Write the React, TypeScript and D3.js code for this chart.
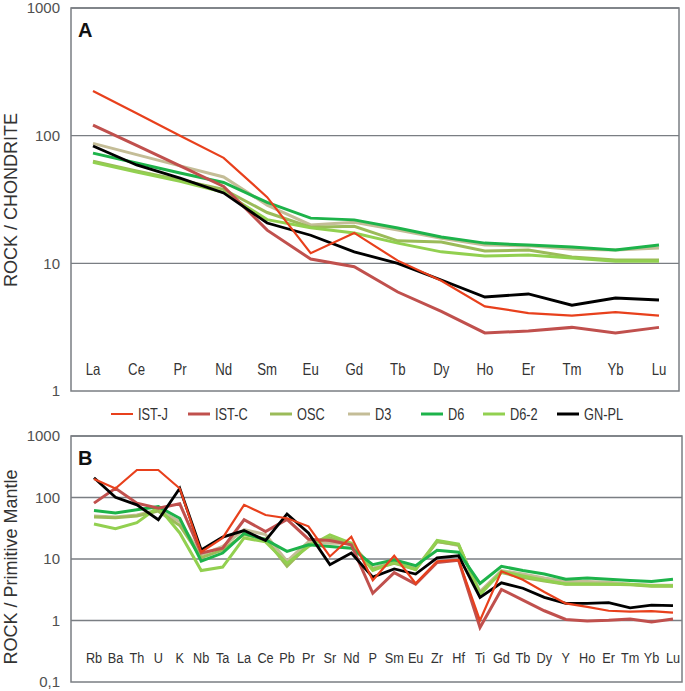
import React from "react";
import * as d3 from "d3";

const REE = ["La","Ce","Pr","Nd","Sm","Eu","Gd","Tb","Dy","Ho","Er","Tm","Yb","Lu"];
const SPIDER = ["Rb","Ba","Th","U","K","Nb","Ta","La","Ce","Pb","Pr","Sr","Nd","P","Sm","Eu","Zr","Hf","Ti","Gd","Tb","Dy","Y","Ho","Er","Tm","Yb","Lu"];

const SERIES = ["IST-J","IST-C","OSC","D3","D6","D6-2","GN-PL"];

// Panel A: chondrite-normalised REE
const A_IST_J = [224,150,100,67,33,12,17.3,10.5,7.3,4.6,4.08,3.9,4.15,3.9];
const A_IST_C = [121,84,58,40,18.2,10.8,9.4,5.96,4.2,2.85,2.95,3.15,2.85,3.15];
const A_OSC = [63,53,45,38,25,19.2,19.5,15,14.7,12.5,12.7,11.2,10.6,10.6];
const A_D3 = [87,71,58,47.5,28.6,20,21,18.2,15.7,13.9,13.7,12.9,12.7,13.2];
const A_D6 = [73,61,51,43,30,22.6,21.9,18.9,16.1,14.4,13.9,13.4,12.7,13.9];
const A_D6_2 = [62,52,44,36,22,19,17.3,14.4,12.3,11.4,11.6,11,10.4,10.4];
const A_GN_PL = [83,59,46.5,35.6,20.7,16.6,12.3,10.0,7.4,5.45,5.75,4.7,5.35,5.16];

// Panel B: primitive-mantle-normalised
const B_IST_J = [200,140,280,280,140,13,22,76,52,46,34,11,23,4.5,11.3,4.0,9.2,9.7,1.0,6.3,4.6,2.9,1.9,1.67,1.44,1.39,1.42,1.34];
const B_IST_C = [81,141,81,67,79,12.5,15,43.5,28,44,21,20,17,2.77,6.0,3.9,8.8,9.5,0.77,3.2,2.15,1.44,1.04,0.98,1.01,1.06,0.95,1.06];
const B_OSC = [48,47,50,60,35,10.5,14,25,21,7.6,17,22,17,6.8,8.5,6.8,19,17,2.8,6.0,5.0,4.4,3.9,3.9,3.9,3.8,3.6,3.6];
const B_D3 = [50,48,52,63,40.5,11.7,16,30,25,9.2,19,18,18,7.1,9.2,7.1,19.5,16.5,2.95,6.5,5.7,4.9,4.3,4.3,4.2,3.9,3.75,3.75];
const B_D6 = [61.5,56,63,71,46,9.2,12.5,26,20.6,13.3,17,16,15,8.1,9.7,7.8,13.9,12.9,4.0,7.6,6.5,5.7,4.7,4.9,4.7,4.47,4.3,4.7];
const B_D6_2 = [37,31,39,70,26.5,6.5,7.4,22,19,8.5,16,24.7,18,6.5,8.8,6.7,20,17.5,2.6,6.3,5.3,4.5,3.94,3.94,3.9,3.9,3.66,3.66];
const B_GN_PL = [210,101,76,43.5,141,14,22.7,29,20,54,26.5,8.1,12.5,5.07,6.9,5.7,10.4,11.3,2.38,4.1,3.35,2.38,1.9,1.9,1.95,1.6,1.78,1.74];

const A_TICKS = [1, 10, 100, 1000];
const A_TICK_LABELS = ["1", "10", "100", "1000"];
const B_TICKS = [0.1, 1, 10, 100, 1000];
const B_TICK_LABELS = ["0,1", "1", "10", "100", "1000"];

const COLORS: Record<string, string> = {
  "IST-J": "#e8401c",
  "IST-C": "#c0504d",
  "OSC": "#9bbb59",
  "D3": "#c4bd97",
  "D6": "#1db34a",
  "D6-2": "#92d050",
  "GN-PL": "#000000",
};
const WIDTHS: Record<string, number> = {
  "IST-J": 2.2, "IST-C": 3, "OSC": 3, "D3": 3, "D6": 3, "D6-2": 3, "GN-PL": 2.8,
};
const DRAW_ORDER = ["D3", "OSC", "D6-2", "D6", "IST-C", "GN-PL", "IST-J"];
const LEGEND_X = [111, 188, 270, 348, 421, 483, 557];

const A_DATA: Record<string, number[]> = {
  "IST-J": A_IST_J, "IST-C": A_IST_C, "OSC": A_OSC, "D3": A_D3, "D6": A_D6, "D6-2": A_D6_2, "GN-PL": A_GN_PL,
};
const B_DATA: Record<string, number[]> = {
  "IST-J": B_IST_J, "IST-C": B_IST_C, "OSC": B_OSC, "D3": B_D3, "D6": B_D6, "D6-2": B_D6_2, "GN-PL": B_GN_PL,
};

const SANS = "'Liberation Sans', Arial, sans-serif";

type PanelProps = {
  cats: string[];
  data: Record<string, number[]>;
  ticks: number[];
  tickLabels: string[];
  frame: { left: number; right: number; top: number; bottom: number };
  pointRange: [number, number];
  domain: [number, number];
  label: string;
  title: string;
  titleY: number;
  catY: number;
  catSize: number;
  catScale: number;
};

function Panel(p: PanelProps) {
  const { frame } = p;
  const y = d3.scaleLog().domain(p.domain).range([frame.bottom, frame.top]);
  const x = d3.scalePoint<string>().domain(p.cats).range(p.pointRange);
  const line = d3
    .line<number>()
    .x((_, i) => x(p.cats[i]) as number)
    .y((v) => y(v));
  return (
    <g>
      {p.ticks.map((t, i) => (
        <g key={t}>
          {t > p.domain[0] && (
            <line x1={frame.left} x2={frame.right} y1={y(t)} y2={y(t)} stroke="#7a7e83" strokeWidth={1.3} />
          )}
          <text x={60} y={y(t)} dy="0.36em" textAnchor="end" fontFamily={SANS} fontSize={15} fill="#505050">
            {p.tickLabels[i]}
          </text>
        </g>
      ))}
      <rect
        x={frame.left}
        y={frame.top}
        width={frame.right - frame.left}
        height={frame.bottom - frame.top}
        fill="none"
        stroke="#7a7e83"
        strokeWidth={1.5}
      />
      {DRAW_ORDER.map((s) => (
        <path
          key={s}
          d={line(p.data[s]) || ""}
          fill="none"
          stroke={COLORS[s]}
          strokeWidth={WIDTHS[s]}
          strokeLinejoin="miter"
        />
      ))}
      {p.cats.map((c) => (
        <text
          key={c}
          transform={`translate(${x(c) as number}, ${p.catY}) scale(${p.catScale}, 1)`}
          textAnchor="middle"
          fontFamily={SANS}
          fontSize={p.catSize}
          fill="#333"
        >
          {c}
        </text>
      ))}
      <text x={frame.left + 7} y={frame.top + 29} fontFamily={SANS} fontWeight="bold" fontSize={20} fill="#111">
        {p.label}
      </text>
      <text
        transform={`translate(17, ${p.titleY}) rotate(-90)`}
        textAnchor="middle"
        fontFamily={SANS}
        fontSize={18}
        fill="#333"
      >
        {p.title}
      </text>
    </g>
  );
}

export default function App() {
  return (
    <svg
      width={685}
      height={691}
      style={{ position: "absolute", left: 0, top: 0, background: "#fff" }}
    >
      <rect width={685} height={691} fill="#fff" />
      <Panel
        cats={REE}
        data={A_DATA}
        ticks={A_TICKS}
        tickLabels={A_TICK_LABELS}
        frame={{ left: 71, right: 679, top: 8, bottom: 391 }}
        pointRange={[93, 659]}
        domain={[1, 1000]}
        label="A"
        title="ROCK / CHONDRITE"
        titleY={200}
        catY={375}
        catSize={16.5}
        catScale={0.8}
      />
      {SERIES.map((s, i) => (
        <g key={s}>
          <line
            x1={LEGEND_X[i]}
            x2={LEGEND_X[i] + 22}
            y1={414}
            y2={414}
            stroke={COLORS[s]}
            strokeWidth={s === "IST-J" ? 2 : 3}
          />
          <text
            transform={`translate(${LEGEND_X[i] + 27}, 414) scale(0.8, 1)`}
            dy="0.35em"
            fontFamily={SANS}
            fontSize={16}
            fill="#333"
          >
            {s}
          </text>
        </g>
      ))}
      <Panel
        cats={SPIDER}
        data={B_DATA}
        ticks={B_TICKS}
        tickLabels={B_TICK_LABELS}
        frame={{ left: 71, right: 682, top: 436, bottom: 682 }}
        pointRange={[94, 673]}
        domain={[0.1, 1000]}
        label="B"
        title="ROCK / Primitive Mantle"
        titleY={567}
        catY={663}
        catSize={15.5}
        catScale={0.82}
      />
    </svg>
  );
}
